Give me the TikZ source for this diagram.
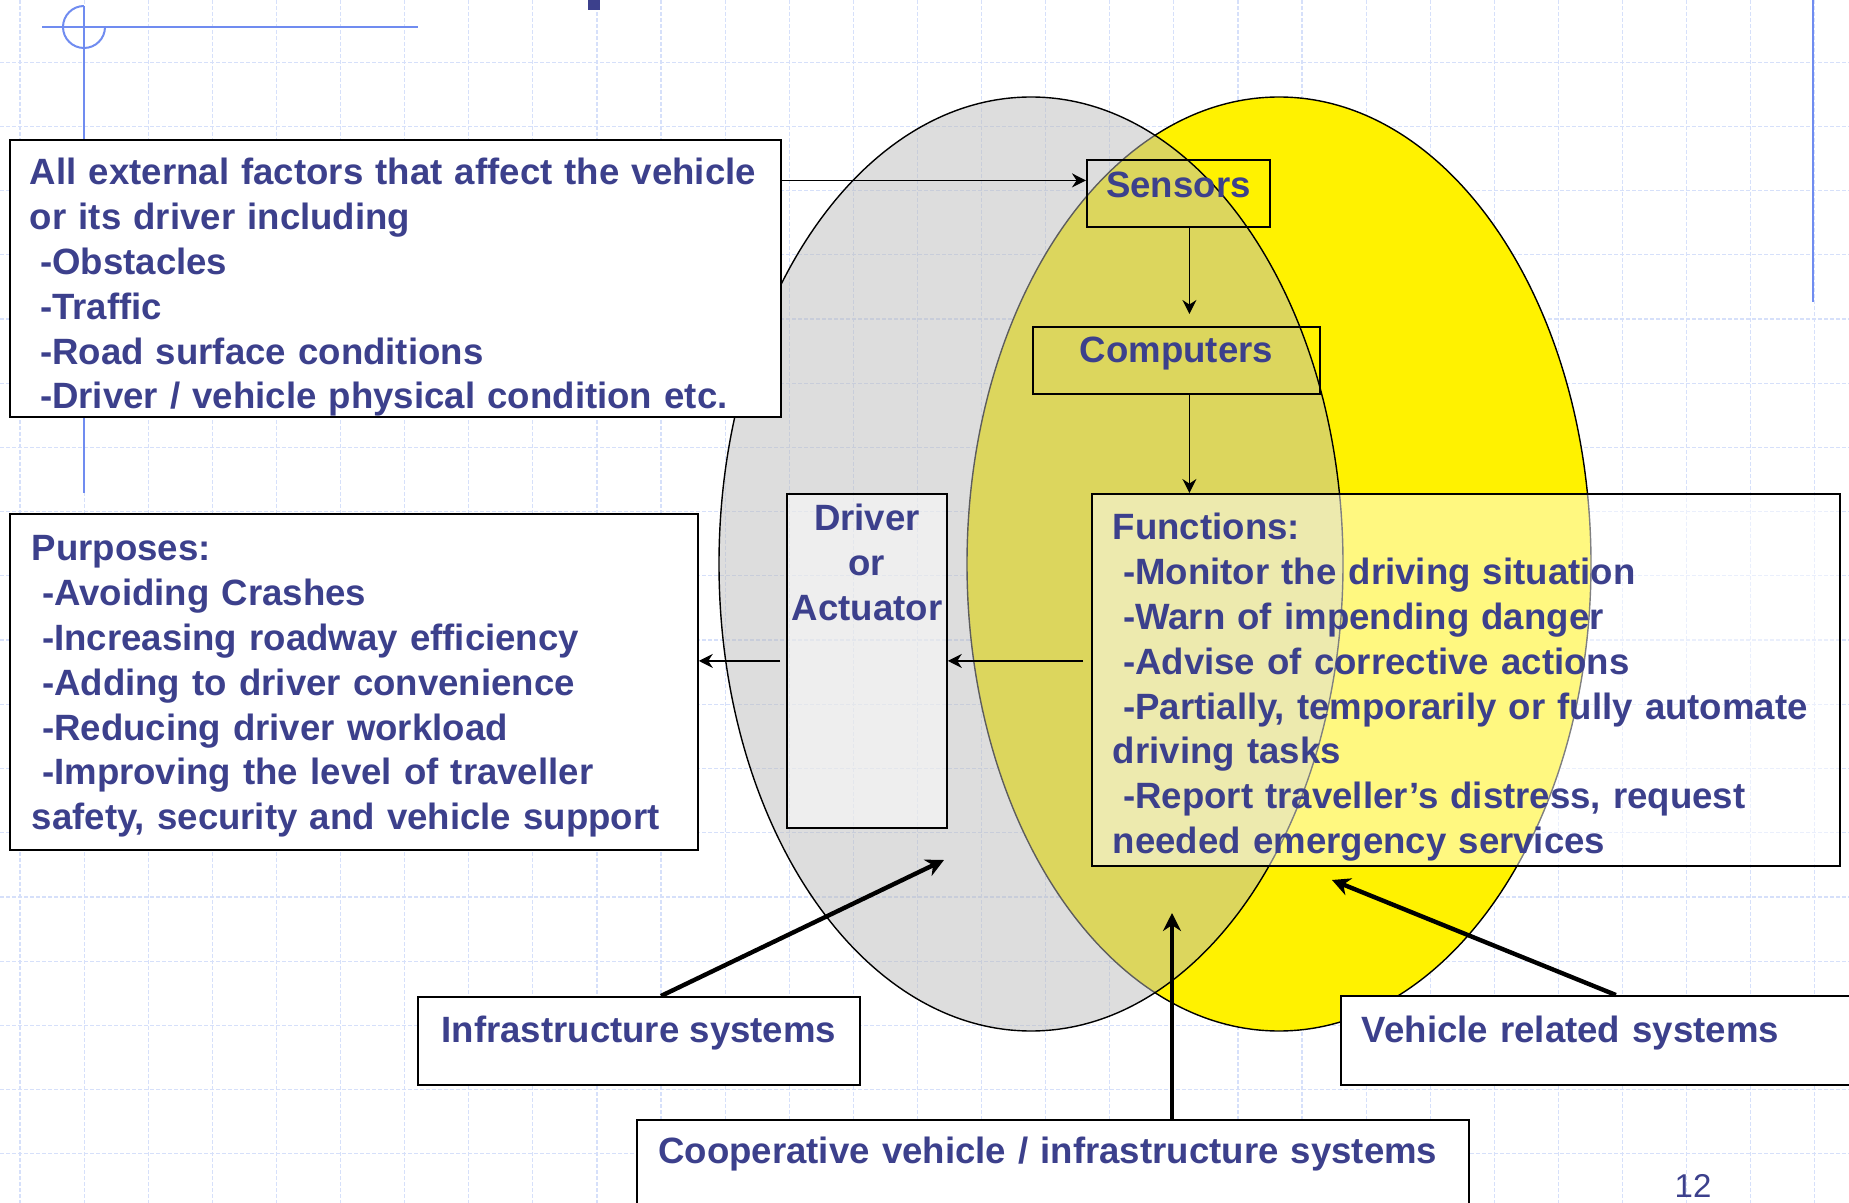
\documentclass[tikz,border=0pt]{standalone}
\usepackage{fontspec}
\setmainfont{Liberation Sans}
\usetikzlibrary{arrows.meta}

\definecolor{txtblue}{RGB}{60,64,140}
\definecolor{gridblue}{RGB}{214,224,250}
\definecolor{lineblue}{RGB}{112,140,240}
\definecolor{ellgray}{RGB}{187,187,187}

\hyphenpenalty=10000
\exhyphenpenalty=10000
\newcommand{\indt}{\hspace*{5.1pt}}

\tikzset{
  gridline/.style={gridblue, line width=0.6pt, dash pattern=on 2pt off 1pt},
  plainbox/.style={draw, line width=0.9pt, text=txtblue, anchor=north west, inner ysep=0pt,
    font=\fontsize{18.3}{22.4}\selectfont\bfseries},
  box/.style={plainbox, fill=white},
  seebox/.style={plainbox, fill=white, fill opacity=0.5, text opacity=1},
  bigarrow/.style={line width=2.2pt, -{Stealth[length=9pt,width=9pt]}}
}

\begin{document}
\begin{tikzpicture}[x=0.5pt, y=-0.5pt, line width=0.8pt, >={Stealth[length=7pt,width=7pt]}]
\useasboundingbox (0,0) rectangle (1849,1203);
% background grid
\foreach \x in {0,...,28} \draw[gridline] (20+64.1*\x,0) -- (20+64.1*\x,1203);
\foreach \y in {0,...,17} \draw[gridline] (0,62.3+64.2*\y) -- (1849,62.3+64.2*\y);
% slide decoration
\draw[lineblue, line width=1pt] (42,27) -- (418,27);
\draw[lineblue, line width=1pt] (84,6) -- (84,493);
\draw[lineblue, line width=1pt] (84,6) arc[start angle=270, end angle=0, radius=21];
\draw[lineblue, line width=1pt] (1813,0) -- (1813,302);
\fill[txtblue] (588,0) rectangle (600,10);
% the two ellipses
\draw[line width=0.7pt, fill=yellow] (1279,564) ellipse [x radius=312, y radius=467];
\draw[line width=0.7pt, fill=ellgray, fill opacity=0.5] (1031,564) ellipse [x radius=312, y radius=467];
% boxes
\node[box, inner xsep=10pt, text width=365.5pt, align=left, text height=22.5pt, text depth=116pt] (ext) at (9,139)
  {All external factors that affect the vehicle\\or its driver including\\\indt-Obstacles\\\indt-Traffic\\\indt-Road surface conditions\\\indt-Driver / vehicle physical condition etc.};
\node[box, inner xsep=11pt, text width=322pt, align=left, text height=23.5pt, text depth=144.5pt] (pur) at (9,513)
  {Purposes:\\\indt-Avoiding Crashes\\\indt-Increasing roadway efficiency\\\indt-Adding to driver convenience\\\indt-Reducing driver workload\\\indt-Improving the level of traveller\\safety, security and vehicle support};
\node[seebox, inner xsep=2.5pt, text width=75pt, align=center, text height=18.5pt, text depth=148.5pt] (drv) at (786,493)
  {Driver\\or\\Actuator};
\node[plainbox, minimum width=91.5pt, text height=19pt, text depth=14.5pt] (sen) at (1086,159) {Sensors};
\node[plainbox, minimum width=143.5pt, text height=18pt, text depth=15.5pt] (comp) at (1032,326) {Computers};
\node[seebox, inner xsep=10.5pt, text width=353pt, align=left, text height=23pt, text depth=163pt] (fun) at (1091,493)
  {Functions:\\\indt-Monitor the driving situation\\\indt-Warn of impending danger\\\indt-Advise of corrective actions\\\indt-Partially, temporarily or fully automate\\driving tasks\\\indt-Report traveller’s distress, request\\needed emergency services};
\node[box, minimum width=221pt, text height=23pt, text depth=21pt] (inf) at (417,996) {Infrastructure systems};
\node[box, inner xsep=10.5pt, text width=244pt, align=left, text height=23.5pt, text depth=21pt] (veh) at (1340,995) {Vehicle related systems};
\node[box, inner xsep=10.7pt, text width=394.6pt, align=left, text height=22pt, text depth=26pt] (coop) at (636,1119)
  {Cooperative vehicle / infrastructure systems};
\node[text=txtblue, font=\fontsize{16.5}{20}\selectfont, anchor=base] (pgnum) at (1693,1197) {12};
% flow arrows
\draw[->] (ext.east |- sen.172) -- (sen.172);
\draw[->, shorten >=6pt] ([xshift=5.5pt]sen.south) -- ([xshift=5.5pt]sen.south |- comp.north);
\draw[->] ([xshift=6.5pt]comp.south) -- ([xshift=6.5pt]comp.south |- fun.north);
\draw[->] ([xshift=-4pt]fun.west |- drv.east) -- (drv.east);
\draw[->] ([xshift=-3pt]drv.west) -- (pur.east |- drv.west);
% pointers into the ellipses
\coordinate (infend) at (944,860);
\coordinate (coopend) at (1172,913);
\coordinate (vehend) at (1332,880);
\draw[bigarrow] ([xshift=11pt]inf.north) -- (infend);
\draw[bigarrow] (coop.north -| coopend) -- (coopend);
\draw[bigarrow] ([xshift=5pt]veh.north) -- (vehend);
\end{tikzpicture}
\end{document}
